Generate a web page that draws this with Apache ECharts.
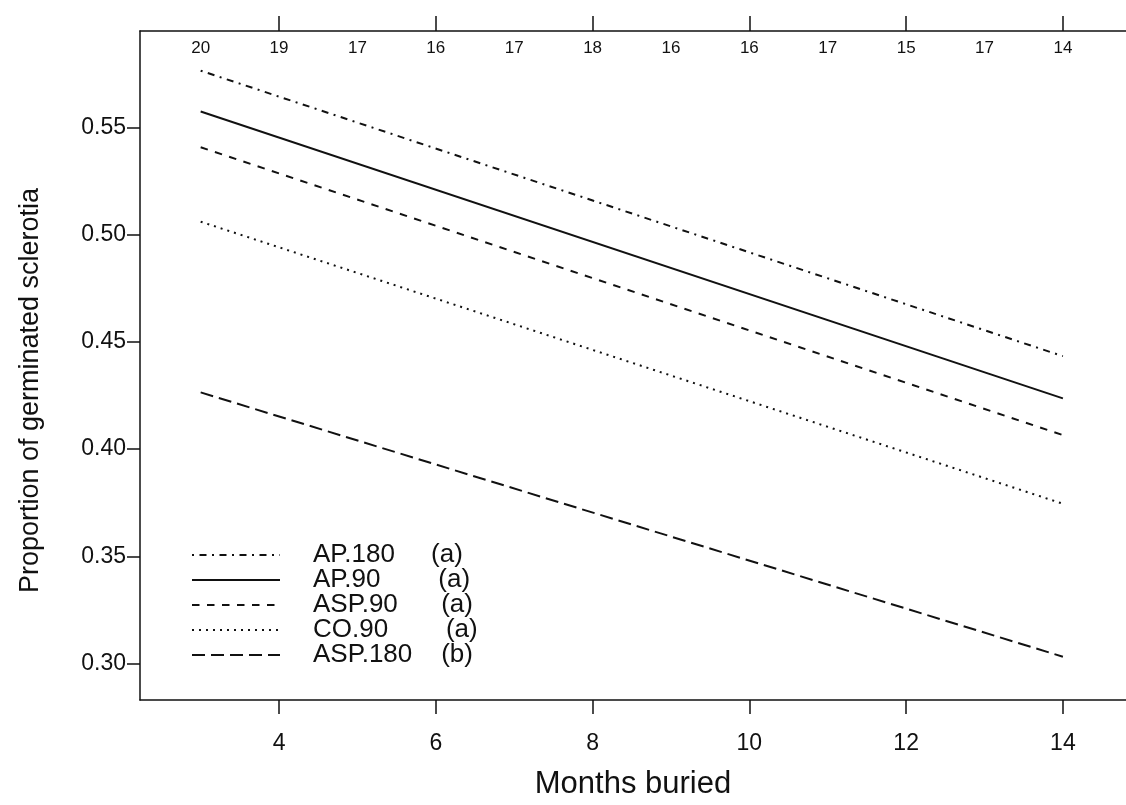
<!DOCTYPE html>
<html>
<head>
<meta charset="utf-8">
<script src="https://cdn.jsdelivr.net/npm/echarts@6/dist/echarts.min.js"></script>
<style>
  html, body { margin: 0; padding: 0; background: #fff; }
  #chart { width: 1126px; height: 805px; }
</style>
</head>
<body>
<div id="chart"></div>
<script>
// Fitted germination proportions at the first and last burial month
const months = [3, 14];
const ap180 = [0.5764, 0.4433];
const ap90 = [0.5574, 0.4236];
const asp90 = [0.5407, 0.4065];
const co90 = [0.5060, 0.3745];
const asp180 = [0.4264, 0.3032];

// Treatment labels with the significance group letters
const seriesNames = ['AP.180     (a)', 'AP.90        (a)', 'ASP.90      (a)', 'CO.90        (a)', 'ASP.180    (b)'];

// Number of samples recovered at each month (top axis)
const sampleMonths = [3, 4, 5, 6, 7, 8, 9, 10, 11, 12, 13, 14];
const sampleCounts = [20, 19, 17, 16, 17, 18, 16, 16, 17, 15, 17, 14];

const xTicks = [4, 6, 8, 10, 12, 14];
const yTicks = [0.30, 0.35, 0.40, 0.45, 0.50, 0.55];

const FONT = '"Liberation Sans", Arial, sans-serif';
const INK = '#111';

function pairs(ys) { return months.map((m, i) => [m, ys[i]]); }

const dashes = [
  [2, 5.5, 7, 5.5],   // dot-dash
  'solid',
  [7.5, 7.5],         // dashed
  [2, 5],             // dotted
  [13, 6]             // long dash
];
const values = [ap180, ap90, asp90, co90, asp180];

const series = values.map((v, i) => ({
  name: seriesNames[i],
  type: 'line',
  xAxisIndex: 0,
  yAxisIndex: 0,
  data: pairs(v),
  symbol: 'none',
  silent: true,
  lineStyle: { color: INK, width: 2, type: dashes[i], cap: 'butt' }
}));

const X_MIN = 2.226, X_MAX = 14.805;

const chart = echarts.init(document.getElementById('chart'), null, { renderer: 'canvas' });
chart.setOption({
  animation: false,
  backgroundColor: '#fff',
  textStyle: { fontFamily: FONT, color: INK },
  grid: { left: 140, top: 31, width: 1000, height: 678, containLabel: false },
  legend: {
    orient: 'vertical',
    left: 186,
    top: 537,
    padding: 5,
    itemWidth: 88,
    itemHeight: 14,
    itemGap: -1,
    selectedMode: false,
    data: seriesNames,
    itemStyle: { opacity: 0 },
    textStyle: { fontFamily: FONT, fontSize: 26, lineHeight: 22, color: INK, padding: [0, 0, 0, 28] }
  },
  xAxis: [
    {
      type: 'value',
      position: 'bottom',
      min: X_MIN,
      max: X_MAX,
      name: 'Months buried',
      nameLocation: 'middle',
      nameGap: 69,
      nameTextStyle: { fontFamily: FONT, fontSize: 31, color: INK },
      axisLine: { show: true, lineStyle: { color: INK, width: 1.5 } },
      axisTick: { show: true, length: 14, inside: false, customValues: xTicks, lineStyle: { color: INK, width: 1.5 } },
      axisLabel: { customValues: xTicks, margin: 32, fontSize: 23, color: INK, fontFamily: FONT },
      splitLine: { show: false }
    },
    {
      type: 'value',
      position: 'top',
      min: X_MIN,
      max: X_MAX,
      axisLine: { show: true, lineStyle: { color: INK, width: 1.5 } },
      axisTick: { show: true, length: 15, inside: false, customValues: xTicks, lineStyle: { color: INK, width: 1.5 } },
      axisLabel: {
        inside: true,
        margin: 9,
        customValues: sampleMonths,
        fontSize: 17,
        color: INK,
        fontFamily: FONT,
        formatter: (v) => {
          const i = sampleMonths.indexOf(Math.round(v));
          return i >= 0 ? String(sampleCounts[i]) : '';
        }
      },
      splitLine: { show: false }
    }
  ],
  yAxis: {
    type: 'value',
    min: 0.2830,
    max: 0.5949,
    name: 'Proportion of germinated sclerotia',
    nameLocation: 'middle',
    nameGap: 96,
    nameTextStyle: { fontFamily: FONT, fontSize: 27, color: INK, padding: [0, 50, 0, 0] },
    axisLine: { show: true, lineStyle: { color: INK, width: 1.5 } },
    axisTick: { show: true, length: 13, customValues: yTicks, lineStyle: { color: INK, width: 1.5 } },
    axisLabel: {
      customValues: yTicks,
      margin: 14,
      fontSize: 23,
      color: INK,
      fontFamily: FONT,
      formatter: (v) => v.toFixed(2)
    },
    splitLine: { show: false }
  },
  series: series
});
</script>
</body>
</html>
